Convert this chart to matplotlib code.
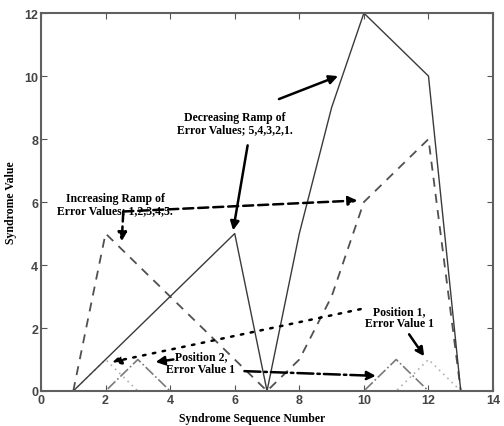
import numpy as np
import matplotlib.pyplot as plt

# syndrome sequence numbers and the four syndrome traces
seq = [1, 2, 3, 4, 5, 6, 7, 8, 9, 10, 11, 12, 13]
ramp_dec = [0, 1, 2, 3, 4, 5, 0, 5, 9, 12, 11, 10, 0]
ramp_inc = [0, 5, 4, 3, 2, 1, 0, 1, 3, 6, 7, 8, 0]
pos2_val1 = [0, 0, 1, 0, 0, 0, 0, 0, 0, 0, 1, 0, 0]
pos1_val1 = [0, 1, 0, 0, 0, 0, 0, 0, 0, 0, 0, 1, 0]

xticks = [0, 2, 4, 6, 8, 10, 12, 14]
yticks = [0, 2, 4, 6, 8, 10, 12]

serif = ['Liberation Serif', 'DejaVu Serif']
sans = ['Liberation Sans', 'DejaVu Sans']


def arrow(ax, start, end, ls='-', lw=1.8, scale=13):
    ax.annotate('', xy=end, xytext=start,
                arrowprops=dict(arrowstyle='-|>', color='black', lw=lw,
                                linestyle=ls, mutation_scale=scale,
                                shrinkA=0, shrinkB=0))


fig = plt.figure(figsize=(5.04, 4.27), dpi=100)
ax = fig.add_axes([0.0813, 0.082, 0.897, 0.885])

ax.plot(seq, pos1_val1, linestyle=(0, (1, 2.5)), color='#b0b0b0', lw=1.2)
ax.plot(seq, pos2_val1, linestyle='-.', color='#7a7a7a', lw=1.2)
ax.plot(seq, ramp_inc, linestyle=(0, (5, 4)), color='#505050', lw=1.3)
ax.plot(seq, ramp_dec, linestyle='-', color='#3a3a3a', lw=1.0)

ax.set_xlim(0, 14)
ax.set_ylim(0, 12)
ax.set_xticks(xticks)
ax.set_yticks(yticks)
ax.tick_params(direction='in', length=4, top=True, right=True,
               labelsize=9, pad=2, color='#555555', labelcolor='#444444')
for lab in ax.get_xticklabels() + ax.get_yticklabels():
    lab.set_family(sans)
    lab.set_fontweight('bold')
for sp in ax.spines.values():
    sp.set_color('#606060')
    sp.set_linewidth(1.5)

ax.set_xlabel('Syndrome Sequence Number', family=serif, fontweight='bold',
              fontsize=8.5)
ax.set_ylabel('Syndrome Value', family=serif, fontweight='bold', fontsize=8.5)
ax.xaxis.set_label_coords(0.467, -0.055)
ax.yaxis.set_label_coords(-0.052, 0.5)

tkw = dict(family=serif, fontweight='bold', fontsize=8.5, ha='center',
           va='center', linespacing=1.0)

# decreasing ramp note
ax.text(6.0, 8.5, 'Decreasing Ramp of\nError Values; 5,4,3,2,1.', **tkw)
arrow(ax, (6.4, 7.8), (5.95, 5.1))
arrow(ax, (7.37, 9.27), (9.2, 10.0))

# increasing ramp note
ax.text(2.3, 5.95, 'Increasing Ramp of\nError Values; 1,2,3,4,5.', **tkw)
arrow(ax, (2.55, 5.7), (2.5, 4.75), ls=(0, (4, 2)))
arrow(ax, (2.55, 5.7), (9.8, 6.05), ls=(0, (4, 2)))

# position 1 note
ax.text(11.1, 2.35, 'Position 1,\nError Value 1', **tkw)
arrow(ax, (9.9, 2.6), (2.2, 0.92), ls=(0, (1, 3)))
arrow(ax, (11.4, 1.8), (11.87, 1.1), ls='-.')

# position 2 note
ax.text(4.95, 0.9, 'Position 2,\nError Value 1', **tkw)
arrow(ax, (4.1, 1.0), (3.55, 0.92))
arrow(ax, (6.3, 0.63), (10.37, 0.48), ls='-.')

fig.savefig('out.png', dpi=100)
